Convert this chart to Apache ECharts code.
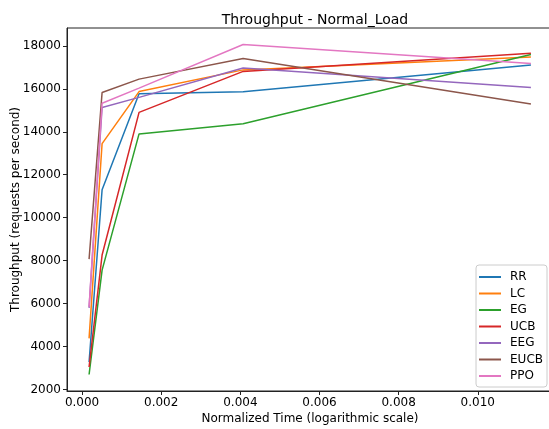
<!DOCTYPE html>
<html>
<head>
<meta charset="utf-8">
<title>Throughput - Normal_Load</title>
<script src="https://cdn.jsdelivr.net/npm/echarts@6/dist/echarts.min.js"></script>
<style>
    html, body {
        margin: 0;
        padding: 0;
        background: #fff;
    }
    #chart {
        width: 549px;
        height: 429px;
    }
</style>
</head>
<body>
<div id="chart"></div>
<script>
// x positions (normalized time) shared by every series
const xTimes = [0.000177, 0.000506, 0.00144, 0.00407, 0.011343];

const rrVals = [3280, 11300, 15770, 15860, 17105];
const lcVals = [4380, 13450, 15870, 16880, 17480];
const egVals = [2700, 7560, 13900, 14370, 17600];
const ucbVals = [3050, 8260, 14900, 16810, 17650];
const eegVals = [5800, 15130, 15600, 16970, 16060];
const eucbVals = [8070, 15830, 16450, 17410, 15290];
const ppoVals = [5850, 15330, 16030, 18060, 17180];

const seriesNames = ['RR', 'LC', 'EG', 'UCB', 'EEG', 'EUCB', 'PPO'];
const seriesVals = [rrVals, lcVals, egVals, ucbVals, eegVals, eucbVals, ppoVals];

const xTicks = [0, 0.002, 0.004, 0.006, 0.008, 0.010];
const yTicks = [2000, 4000, 6000, 8000, 10000, 12000, 14000, 16000, 18000];

const colors = ['#1f77b4', '#ff7f0e', '#2ca02c', '#d62728', '#9467bd', '#8c564b', '#e377c2'];

const font = 'DejaVu Sans';

let chart = echarts.init(document.getElementById('chart'), null, {renderer: 'canvas'});

let series = seriesNames.map(function (name, i) {
    return {
        name: name,
        type: 'line',
        symbol: 'none',
        data: xTimes.map(function (x, j) {
            return [x, seriesVals[i][j]];
        }),
        lineStyle: {
            width: 1.5,
            color: colors[i]
        },
        itemStyle: {
            color: colors[i]
        }
    };
});

let option = {
    animation: false,
    color: colors,
    textStyle: {
        fontFamily: font
    },
    title: {
        text: 'Throughput - Normal_Load',
        left: 310,
        textAlign: 'center',
        top: 8,
        textStyle: {
            fontFamily: font,
            fontSize: 14,
            fontWeight: 'normal',
            color: '#000'
        }
    },
    grid: {
        left: 67,
        right: -4,
        top: 28,
        bottom: 38,
        containLabel: false,
        outerBoundsMode: 'none',
        show: true,
        borderColor: '#222',
        borderWidth: 1
    },
    legend: {
        orient: 'vertical',
        right: 2,
        bottom: 42,
        icon: 'rect',
        itemWidth: 22,
        itemHeight: 2,
        itemGap: 4.5,
        padding: [6, 4, 5, 3],
        borderColor: '#ccc',
        borderWidth: 1,
        borderRadius: 3,
        backgroundColor: 'rgba(255,255,255,0.8)',
        textStyle: {
            fontFamily: font,
            fontSize: 12,
            color: '#000',
            padding: [0, 0, 0, 4]
        },
        data: seriesNames
    },
    xAxis: {
        type: 'value',
        min: -0.000381,
        max: 0.011901,
        name: 'Normalized Time (logarithmic scale)',
        nameLocation: 'middle',
        nameGap: 22,
        nameMoveOverlap: false,
        nameTextStyle: {
            fontFamily: font,
            fontSize: 12,
            color: '#000'
        },
        axisLine: {
            onZero: false,
            lineStyle: {color: '#222'}
        },
        axisTick: {
            inside: false,
            length: 4,
            customValues: xTicks,
            lineStyle: {color: '#222'}
        },
        axisLabel: {
            customValues: xTicks,
            fontFamily: font,
            fontSize: 12,
            color: '#000',
            margin: 6,
            formatter: function (v) {
                return v.toFixed(3);
            }
        },
        splitLine: {show: false}
    },
    yAxis: {
        type: 'value',
        min: 1932,
        max: 18830,
        name: 'Throughput (requests per second)',
        nameLocation: 'middle',
        nameGap: 45,
        nameMoveOverlap: false,
        nameTextStyle: {
            fontFamily: font,
            fontSize: 12,
            color: '#000'
        },
        axisLine: {
            show: true,
            onZero: false,
            lineStyle: {color: '#222'}
        },
        axisTick: {
            show: true,
            inside: false,
            length: 4,
            customValues: yTicks,
            lineStyle: {color: '#222'}
        },
        axisLabel: {
            customValues: yTicks,
            fontFamily: font,
            fontSize: 12,
            color: '#000',
            margin: 6,
            formatter: function (v) {
                return String(v);
            }
        },
        splitLine: {show: false}
    },
    series: series
};

chart.setOption(option);
</script>
</body>
</html>
